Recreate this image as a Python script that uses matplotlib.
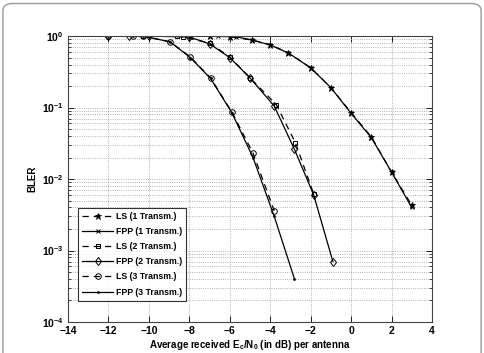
import numpy as np
import matplotlib.pyplot as plt
from matplotlib.patches import FancyBboxPatch

x_ls1 = [-7.0, -6.0, -4.9, -4.0, -3.1, -2.0, -1.0, 0.0, 1.0, 2.0, 3.0]
y_ls1 = [1.0, 0.98, 0.88, 0.76, 0.58, 0.36, 0.19, 0.085, 0.039, 0.0125, 0.0043]
x_fpp1 = [-7.0, -6.6, -5.7, -4.9, -4.0, -3.1, -2.0, -1.0, 0.0, 1.0, 2.0, 3.0]
y_fpp1 = [1.0, 1.0, 0.98, 0.88, 0.75, 0.58, 0.36, 0.19, 0.083, 0.038, 0.0125, 0.004]

x_ls2 = [-10.3, -8.6, -8.3, -7.0, -6.0, -5.0, -3.7, -2.75, -1.85]
y_ls2 = [1.0, 1.0, 0.97, 0.8, 0.51, 0.26, 0.11, 0.032, 0.0062]
x_fpp2 = [-12.0, -11.0, -10.0, -8.0, -7.0, -6.0, -5.0, -3.8, -2.8, -1.85, -0.9]
y_fpp2 = [1.0, 1.0, 1.0, 0.97, 0.78, 0.5, 0.26, 0.105, 0.026, 0.006, 0.0007]

x_ls3 = [-12.0, -10.8, -10.3, -8.95, -7.95, -6.95, -5.9, -4.85, -3.8]
y_ls3 = [1.0, 1.0, 1.0, 0.83, 0.51, 0.26, 0.087, 0.023, 0.0036]
x_fpp3 = [-12.0, -10.8, -10.3, -8.95, -7.95, -6.95, -5.9, -4.85, -3.8, -2.8]
y_fpp3 = [1.0, 1.0, 1.0, 0.83, 0.5, 0.255, 0.085, 0.02, 0.003, 0.0004]

labels = ['LS (1 Transm.)', 'FPP (1 Transm.)', 'LS (2 Transm.)',
          'FPP (2 Transm.)', 'LS (3 Transm.)', 'FPP (3 Transm.)']

plt.rcParams['font.family'] = ['Liberation Sans', 'DejaVu Sans']
plt.rcParams['font.weight'] = 'bold'
plt.rcParams['mathtext.default'] = 'regular'

fig = plt.figure(figsize=(4.84, 3.53), dpi=100)
border = FancyBboxPatch((0.006, -0.05), 0.988, 1.04, boxstyle='round,pad=0,rounding_size=0.02',
                        transform=fig.transFigure, fc='white', ec='#9a9a9a', lw=1.0, zorder=-5)
fig.patches.append(border)

ax = fig.add_axes([0.1405, 0.0878, 0.752, 0.810])
ax.set_zorder(1)

kw = dict(color='black', lw=0.9, mfc='none', mec='black', mew=0.7, dashes=None)
dash = (5, 4)
ax.semilogy(x_ls1, y_ls1, ls=(0, dash), marker='*', ms=4.5, label=labels[0],
            color='black', lw=0.9, mfc='black', mec='black', mew=0.6)
ax.semilogy(x_fpp1, y_fpp1, '-', marker='x', ms=3.5, label=labels[1],
            color='black', lw=0.9, mec='black', mew=0.7)
ax.semilogy(x_ls2, y_ls2, ls=(0, dash), marker='s', ms=3.5, label=labels[2],
            color='black', lw=0.9, mfc='none', mec='black', mew=0.7)
ax.semilogy(x_fpp2, y_fpp2, '-', marker='d', ms=4.5, label=labels[3],
            color='black', lw=0.9, mfc='none', mec='black', mew=0.7)
ax.semilogy(x_ls3, y_ls3, ls=(0, dash), marker='o', ms=4, label=labels[4],
            color='black', lw=0.9, mfc='none', mec='black', mew=0.7)
ax.semilogy(x_fpp3, y_fpp3, '-', marker='.', ms=2, label=labels[5],
            color='black', lw=0.9, mec='black')

ax.set_xlim(-14, 4)
ax.set_ylim(1e-4, 1)
ax.set_xticks(np.arange(-14, 5, 2))
ax.set_xticklabels(['\u2212%d' % -v if v < 0 else '%d' % v for v in range(-14, 5, 2)])
ax.tick_params(which='both', direction='in', top=True, right=True, labelsize=7.5, pad=3)
ax.tick_params(which='major', length=4, width=0.6)
ax.tick_params(which='minor', length=2, width=0.5)
ax.grid(True, which='both', axis='y', ls=':', color='#9a9a9a', lw=0.6)
ax.grid(True, which='major', axis='x', ls=':', color='#9a9a9a', lw=0.6)
for s in ax.spines.values():
    s.set_linewidth(0.8)
    s.set_color('#444444')

ax.set_xlabel('Average received E$_c$/N$_0$ (in dB) per antenna', fontsize=7, fontweight='bold', labelpad=1)
ax.set_ylabel('BLER', fontsize=7, fontweight='bold', labelpad=3)

leg = ax.legend(loc='lower left', bbox_to_anchor=(0.027, 0.075), fontsize=6.3, frameon=True,
                fancybox=False, edgecolor='black', handlelength=3.6, handletextpad=0.3,
                borderpad=0.45, labelspacing=0.7, borderaxespad=0)
leg.get_frame().set_linewidth(0.8)

fig.savefig('out.png', dpi=100, facecolor='white')
